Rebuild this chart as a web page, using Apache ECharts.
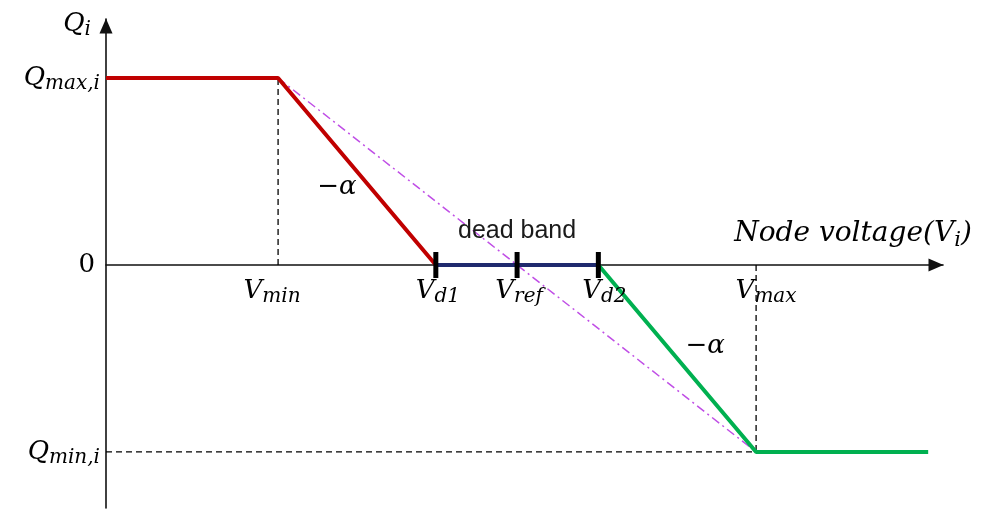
<!DOCTYPE html>
<html>
<head>
<meta charset="utf-8">
<script src="https://cdn.jsdelivr.net/npm/echarts@6/dist/echarts.min.js"></script>
<style>
  html, body { margin: 0; padding: 0; background: #ffffff; }
  #chart { width: 990px; height: 510px; }
</style>
</head>
<body>
<div id="chart"></div>
<script>
// Volt-var droop characteristic with a dead band around V_ref.

// Voltage break points (p.u.) and their subscripts
const voltageKeys = ['min', 'd1', 'ref', 'd2', 'max'];
const voltageValues = [0.95, 0.983, 1.0, 1.017, 1.05];

// Reactive power levels and their subscripts
const reactiveKeys = ['max,i', '0', 'min,i'];
const reactiveValues = [1, 0, -1];

// The Q(V) curve: flat at Q_max, droop, dead band, droop, flat at Q_min
const curveV = [0.914, 0.95, 0.983, 1.017, 1.05, 1.086];
const curveQ = [1, 1, 0, 0, -1, -1];

// Straight droop from (V_min, Q_max) to (V_max, Q_min) without dead band
const directV = [0.95, 1.05];
const directQ = [1, -1];

// Axis extents
const rangeV = [0.914, 1.0891];
const rangeQ = [-1.3, 1.316];

const pts = (xs, ys) => xs.map((x, i) => [x, ys[i]]);
const curve = pts(curveV, curveQ);
const vAt = k => voltageValues[voltageKeys.indexOf(k)];
const qAt = k => reactiveValues[reactiveKeys.indexOf(k)];

const SERIF = 'DejaVu Serif';
const INK = '#000';
const rich = {
  m: { fontFamily: SERIF, fontStyle: 'italic', fontSize: 26, lineHeight: 32, color: INK },
  s: { fontFamily: SERIF, fontStyle: 'italic', fontSize: 20, lineHeight: 18, verticalAlign: 'bottom', color: INK },
  u: { fontFamily: SERIF, fontSize: 26, lineHeight: 32, color: INK },
  M: { fontFamily: SERIF, fontStyle: 'italic', fontSize: 28, lineHeight: 34, color: INK },
  S: { fontFamily: SERIF, fontStyle: 'italic', fontSize: 21, lineHeight: 19, verticalAlign: 'bottom', color: INK },
  t: { fontFamily: 'Liberation Sans', fontSize: 25, lineHeight: 28, color: '#1a1a1a' }
};
const math = (base, sub) => sub ? `{m|${base}}{s|${sub}}` : `{m|${base}}`;

function textPoint(value, text, position, distance, offset) {
  return {
    value: value,
    label: {
      show: true, formatter: text, position: position,
      distance: distance, offset: offset || [0, 0], rich: rich
    }
  };
}

// Text marks anchored to data coordinates
const labelNudge = { min: [-6, 0], d1: [2, 0], ref: [2, 0], d2: [6, 0], max: [10, 0] };
const labels = [];
voltageKeys.forEach((k, i) => {
  labels.push(textPoint([voltageValues[i], 0], math('V', k), 'bottom', 10, labelNudge[k]));
});
reactiveKeys.forEach((k, i) => {
  const txt = k === '0' ? '{u|0}' : math('Q', k);
  labels.push(textPoint([rangeV[0], reactiveValues[i]], txt, 'left', k === '0' ? 11 : 6, [0, 0]));
});
labels.push(textPoint([rangeV[0], rangeQ[1]], math('Q', 'i'), 'left', 15, [0, 5]));
labels.push(textPoint([rangeV[1], 0], '{M|Node voltage(V}{S|i}{M|)}', 'top', 14, [-90, 0]));
labels.push(textPoint([vAt('ref'), 0], '{t|dead band}', 'top', 20, [0, 0]));
// slope labels next to the two droop segments
const mid = (a, b) => [(a[0] + b[0]) / 2, (a[1] + b[1]) / 2];
labels.push(textPoint(mid(curve[1], curve[2]), '{u|\u2212}{m|\u03b1}', 'inside', 0, [-20, 16]));
labels.push(textPoint(mid(curve[3], curve[4]), '{u|\u2212}{m|\u03b1}', 'inside', 0, [28, -12]));

const seg = (name, data, color, extra) => Object.assign({
  name: name, type: 'line', data: data, symbol: 'none', silent: true,
  lineStyle: { color: color, width: 4, cap: 'butt' }, z: 5
}, extra || {});

const guide = { color: '#000', width: 1.3, type: [6, 4] };
const axisArrow = {
  show: true, symbol: ['none', 'triangle'], symbolSize: [13, 15], symbolOffset: [0, -7],
  lineStyle: { color: '#111', width: 1.6 }
};

const option = {
  animation: false,
  backgroundColor: '#ffffff',
  grid: { left: 106, right: 47, top: 19, bottom: 2, containLabel: false },
  xAxis: {
    type: 'value', min: rangeV[0], max: rangeV[1],
    axisLine: Object.assign({ onZero: true }, axisArrow),
    axisTick: { show: false }, axisLabel: { show: false }, splitLine: { show: false }
  },
  yAxis: {
    type: 'value', min: rangeQ[0], max: rangeQ[1],
    axisLine: Object.assign({ onZero: false }, axisArrow),
    axisTick: { show: false }, axisLabel: { show: false }, splitLine: { show: false }
  },
  series: [
    // dashed guides to V_min, V_max and Q_min
    seg('guideVmin', [[vAt('min'), 0], [vAt('min'), qAt('max,i')]], '#000', { lineStyle: guide, z: 2 }),
    seg('guideVmax', [[vAt('max'), 0], [vAt('max'), qAt('min,i')]], '#000', { lineStyle: guide, z: 2 }),
    seg('guideQmin', [[rangeV[0], qAt('min,i')], [vAt('max'), qAt('min,i')]], '#000', { lineStyle: guide, z: 2 }),
    // straight droop reference, dash-dot
    seg('direct', pts(directV, directQ), '#c04fe6', {
      lineStyle: { color: '#c04fe6', width: 1.5, type: [9, 4, 2, 4] }, z: 3
    }),
    seg('absorb', curve.slice(0, 3), '#c00000'),
    seg('deadBand', curve.slice(2, 4), '#1f2a6e'),
    seg('inject', curve.slice(3), '#00b050'),
    {
      name: 'bandTicks', type: 'scatter', silent: true, z: 6,
      symbol: 'rect', symbolSize: [5, 26],
      itemStyle: { color: '#000', opacity: 1 },
      data: ['d1', 'ref', 'd2'].map(k => [vAt(k), 0])
    },
    {
      name: 'labels', type: 'scatter', silent: true, z: 7,
      symbolSize: 0, itemStyle: { opacity: 1 },
      data: labels
    }
  ]
};

const chart = echarts.init(document.getElementById('chart'), null, { renderer: 'canvas' });
chart.setOption(option);
</script>
</body>
</html>
